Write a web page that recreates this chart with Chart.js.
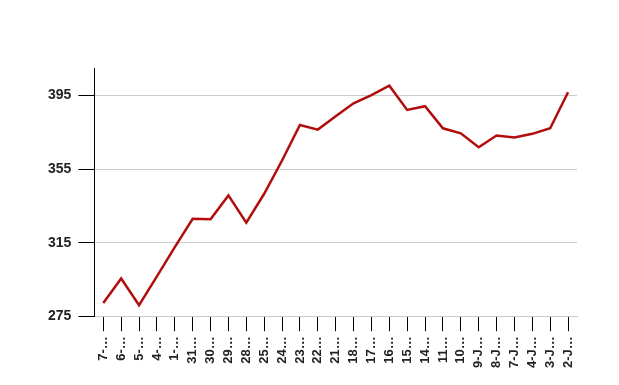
<!DOCTYPE html>
<html>
<head>
<meta charset="utf-8">
<script src="https://cdn.jsdelivr.net/npm/chart.js"></script>
<style>
  html, body { margin: 0; padding: 0; background: #fff; }
  #wrap { width: 619px; height: 385px; }
</style>
</head>
<body>
<div id="wrap"><canvas id="myChart" width="619" height="385"></canvas></div>
<script>
// chart data
const labels = ['7-…', '6-…', '5-…', '4-…', '1-…', '31…', '30…', '29…', '28…', '25…', '24…', '23…', '22…', '21…',
  '18…', '17…', '16…', '15…', '14…', '11…', '10…', '9-J…', '8-J…', '7-J…', '4-J…', '3-J…', '2-J…'];
const values = [282.2, 295.5, 281, 296.7, 312.6, 328, 327.7, 340.7, 325.9, 341.6, 359.7, 379, 376.5, 383.7,
  390.8, 395.3, 400.4, 387.2, 389.2, 377.2, 374.5, 366.9, 373.3, 372.2, 374.2, 377.2, 396.8];
const yTicks = [275, 315, 355, 395];

const ctx = document.getElementById('myChart').getContext('2d');
const myChart = new Chart(ctx, {
    type: 'line',
    data: {
        labels: labels,
        datasets: [{
            data: values,
            borderColor: '#b20d0d',
            borderWidth: 2.5,
            pointRadius: 0,
            tension: 0
        }]
    },
    options: {
        responsive: false,
        animation: false,
        layout: { padding: { top: 68, right: 42, bottom: 12, left: 41 } },
        plugins: { legend: { display: false }, tooltip: { enabled: false } },
        scales: {
            x: {
                offset: true,
                grid: { drawOnChartArea: false, tickColor: '#000', tickLength: 15, offset: false },
                border: { color: '#c8c8c8', width: 1 },
                ticks: {
                    color: '#222',
                    font: { family: 'Liberation Sans', size: 13, weight: 'bold' },
                    maxRotation: 90, minRotation: 90, autoSkip: false, padding: 5
                }
            },
            y: {
                min: 275,
                max: 410,
                afterBuildTicks: axis => { axis.ticks = yTicks.map(v => ({ value: v })); },
                grid: { color: '#cccccc', tickColor: '#000', tickLength: 16, lineWidth: 1 },
                border: { color: '#000', width: 1 },
                ticks: {
                    color: '#222',
                    font: { family: 'Liberation Sans', size: 14, weight: 'bold' },
                    padding: 7
                }
            }
        }
    }
});
</script>
</body>
</html>
